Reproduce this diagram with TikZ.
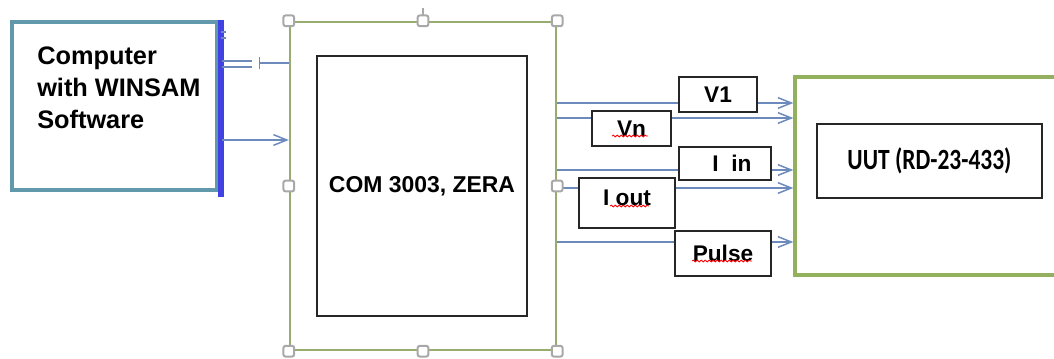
\documentclass[tikz,border=0pt]{standalone}
\usepackage{fontspec}
\usepackage{graphicx}
\setmainfont{Liberation Sans}
\newfontfamily\calibfont{Carlito}
\usetikzlibrary{arrows.meta,positioning,decorations.pathmorphing}
\definecolor{pcframe}{RGB}{98,152,172}
\definecolor{pcbar}{RGB}{66,66,228}
\definecolor{comframe}{RGB}{152,172,112}
\definecolor{uutframe}{RGB}{146,176,94}
\definecolor{wireblue}{RGB}{108,138,188}
\definecolor{gripgray}{RGB}{168,168,168}
\tikzstyle{frame} = [rectangle, inner sep=0pt, fill=white]
\tikzstyle{tag} = [rectangle, draw=black!85, line width=1.3pt, fill=white, inner sep=0pt, font=\bfseries\fontsize{17}{19}\selectfont]
\tikzstyle{wire} = [draw=wireblue, line width=1.1pt, -{Straight Barb[length=10pt,width=8pt]}]
\tikzstyle{grip} = [rectangle, rounded corners=1.5pt, draw=gripgray, line width=1.5pt, fill=white, minimum size=8pt, inner sep=0pt]
\tikzstyle{squiggle} = [red, line width=0.6pt, decorate, decoration={snake, amplitude=0.7pt, segment length=3pt}]
\tikzset{px/.style 2 args={minimum width=#1*0.75pt, minimum height=#2*0.75pt}}

\begin{document}
\begin{tikzpicture}[x=0.75pt, y=-0.75pt]
	\useasboundingbox (0,0) rectangle (1054,358);

	%% Computer
	\node[frame, draw=pcframe, line width=2.6pt, px={205}{168}] (pc) at (114.5,106) {};
	\node[anchor=north west, inner sep=0pt, align=left, font=\bfseries\fontsize{19}{24}\selectfont] (pctext) at (37,47) {Computer\\with WINSAM\\Software};
	\draw[pcbar, line width=4.2pt] ([xshift=1.5pt]pc.north east) -- ([xshift=1.5pt,yshift=-4pt]pc.south east);
	\draw[wireblue, line width=0.9pt] (221,32) -- (226,32) (221,38) -- (226,38);

	%% COM 3003 (selected frame)
	\node[frame, draw=comframe, line width=1.8pt, px={266}{328}] (com) at (423,186) {};
	\node[frame, draw=black!85, line width=1.4pt, px={210}{260}, font=\bfseries\fontsize{17.2}{19}\selectfont] (cominner) at (422,186) {COM 3003, ZERA};

	%% UUT
	\node[frame, draw=uutframe, line width=2.6pt, px={275}{198}] (uut) at (932.5,176) {};
	\node[frame, draw=black!85, line width=1.3pt, px={225}{74}, font=\calibfont\bfseries\fontsize{17.6}{19}\selectfont] (uutinner) at (929.5,161) {\scalebox{1}[1.25]{UUT (RD-23-433)}};

	%% Computer <-> COM
	\coordinate (jack) at (259,63);
	\coordinate (pcout) at (222,140);
	\draw[wireblue, line width=1pt] (222,61) -- (252,61) (222,67) -- (252,67);
	\draw[wireblue, line width=1.1pt, {Bar[width=9pt]}-] (jack) -- (com.west |- jack);
	\draw[wire] (pcout) -- (com.west |- pcout);

	%% COM -> UUT signals
	\foreach \y in {103,118,170,188,242}
	  \draw[wire] (com.east |- 0,\y) -- (uut.west |- 0,\y);

	\node[tag, px={78}{35}] (v1) at (718,94.5) {V1};
	\node[tag, px={79}{35}] (vn) at (631.5,128.5) {Vn};
	\node[tag, px={92}{33}] (iin) at (725,163.5) {\hspace{10.5pt}I\ \ in};
	\node[tag, px={96}{50}, text depth=7.5pt] (iout) at (627,203) {I out};
	\node[tag, px={96}{45}] (pulse) at (723,253.5) {Pulse};

	% spell-check marks
	\draw[squiggle] (612,136) -- (648,136);
	\draw[squiggle] (610,206) -- (649,206);
	\draw[squiggle] (692,261) -- (752,261);

	%% selection handles
	\draw[gripgray, line width=1pt] (com.north) -- ++(0,-13);
	\foreach \a/\n in {north west/1, north/2, north east/3, west/4, east/5, south west/6, south/7, south east/8}
	  \node[grip] (grip\n) at (com.\a) {};
\end{tikzpicture}
\end{document}
